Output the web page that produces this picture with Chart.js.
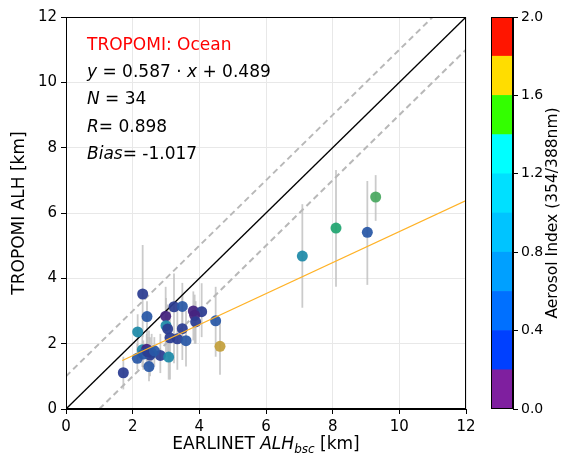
<!DOCTYPE html>
<html>
<head>
<meta charset="utf-8">
<script src="https://cdn.jsdelivr.net/npm/chart.js@4.4.0/dist/chart.umd.min.js"></script>
<style>
  body { margin: 0; background: #fff; }
  #wrap { position: relative; width: 561px; height: 454px; }
  #main { position: absolute; left: 0; top: 0; }
  #cbar { position: absolute; left: 480px; top: 0; }
</style>
</head>
<body>
<div id="wrap">
  <canvas id="main" width="480" height="454"></canvas>
  <canvas id="cbar" width="81" height="454"></canvas>
</div>
<script>
// EARLINET ALH_bsc (x) vs TROPOMI ALH (y), km
const earlinet = [2.30, 2.43, 2.15, 2.99, 3.24, 3.49, 3.82, 4.07, 3.86, 3.89, 4.49, 4.62, 3.00, 3.05, 3.49, 3.12, 3.34,
  3.60, 2.83, 3.08, 2.49, 1.72, 2.14, 2.29, 2.42, 2.57, 2.52, 2.32, 2.45, 2.65, 7.09, 8.10, 9.04, 9.29];
const tropomi = [3.52, 2.83, 2.36, 2.84, 3.13, 3.14, 3.00, 2.98, 2.87, 2.67, 2.70, 1.92, 2.55, 2.45, 2.46, 2.18, 2.15,
  2.09, 1.64, 1.59, 1.30, 1.11, 1.55, 1.81, 1.83, 1.72, 1.65, 1.68, 1.75, 1.78, 4.68, 5.54, 5.41, 6.49];
const errLow = [2.2, 1.8, 1.5, 2.0, 1.4, 2.2, 2.1, 2.2, 2.0, 2.0, 1.6, 1.05, 1.7, 1.6, 1.5, 0.9, 1.2,
  1.3, 1.1, 0.9, 0.85, 0.6, 1.2, 1.3, 1.4, 1.2, 1.0, 1.2, 1.3, 1.3, 3.10, 3.74, 3.80, 5.76];
const errHigh = [5.02, 3.3, 2.9, 3.74, 4.15, 3.86, 3.6, 3.85, 3.5, 3.3, 3.74, 2.7, 3.4, 3.2, 3.5, 3.2, 3.1,
  3.0, 2.3, 2.3, 2.4, 1.6, 2.0, 2.4, 2.3, 2.3, 2.2, 2.1, 2.2, 2.2, 6.27, 7.32, 6.98, 7.16];
const aerosolIndex = [0.3, 0.5, 0.9, 0.1, 0.3, 0.5, 0.1, 0.3, 0.1, 0.3, 0.5, 1.7, 0.9, 0.3, 0.3, 0.3, 0.3,
  0.5, 0.3, 0.9, 0.6, 0.3, 0.5, 0.9, 0.1, 0.9, 0.3, 0.5, 0.3, 0.5, 0.9, 1.3, 0.5, 1.5];

// fitted line as drawn in the figure
const fitSlope = 0.475;
const fitIntercept = 0.68;
const fitRange = [1.69, 12];

const axisTicks = [0, 2, 4, 6, 8, 10, 12];
const cbarTicks = [0.0, 0.4, 0.8, 1.2, 1.6, 2.0];
const cbarColors = ['#7f1f9f', '#0040ff', '#0070ff', '#00a0ff', '#00c4ff', '#00e0ff', '#00ffff', '#33ff00', '#ffdd00', '#ff1500'];
const pointColors = ['#46237f', '#2c3d92', '#2958a6', '#2670ad', '#1e8aa8', '#1f9a9e', '#21a571', '#4aa860', '#c3a03c', '#d04a2a'];

const labelLines = [
  { color: 'red', parts: [['TROPOMI: Ocean', false]] },
  { color: '#000', parts: [['y', true], [' = 0.587 \u00b7 ', false], ['x', true], [' + 0.489', false]] },
  { color: '#000', parts: [['N', true], [' = 34', false]] },
  { color: '#000', parts: [['R', true], ['= 0.898', false]] },
  { color: '#000', parts: [['Bias', true], ['= -1.017', false]] }
];

const FONT = '"DejaVu Sans", sans-serif';
Chart.defaults.font.family = FONT;
Chart.defaults.color = '#000';

function aiColor(v) {
  const i = Math.min(9, Math.floor(v / 0.2));
  return pointColors[i];
}

const points = earlinet.map((x, i) => ({ x: x, y: tropomi[i] }));

const extras = {
  id: 'extras',
  beforeDatasetsDraw(chart) {
    const ctx = chart.ctx, xs = chart.scales.x, ys = chart.scales.y;
    ctx.save();
    ctx.strokeStyle = 'rgba(190,190,190,0.8)';
    ctx.lineWidth = 1.8;
    earlinet.forEach((x, i) => {
      const px = xs.getPixelForValue(x);
      ctx.beginPath();
      ctx.moveTo(px, ys.getPixelForValue(errLow[i]));
      ctx.lineTo(px, ys.getPixelForValue(errHigh[i]));
      ctx.stroke();
    });
    ctx.restore();
  },
  afterDraw(chart) {
    const ctx = chart.ctx, a = chart.chartArea;
    ctx.save();
    ctx.strokeStyle = '#000';
    ctx.lineWidth = 1;
    ctx.strokeRect(a.left + 0.5, a.top + 0.5, a.right - a.left - 1, a.bottom - a.top - 1);

    // text block
    ctx.textBaseline = 'alphabetic';
    labelLines.forEach((ln, k) => {
      let x = 87;
      const y = 50 + k * 27.2;
      ln.parts.forEach(p => {
        ctx.font = (p[1] ? 'italic ' : '') + '17px ' + FONT;
        ctx.fillStyle = ln.color;
        ctx.fillText(p[0], x, y);
        x += ctx.measureText(p[0]).width;
      });
    });

    // x axis title
    const cx = (a.left + a.right) / 2;
    const segs = [['EARLINET ', '17px ', 0], ['ALH', 'italic 17px ', 0], ['bsc', 'italic 12px ', 4], [' [km]', '17px ', 0]];
    let w = 0;
    segs.forEach(s => { ctx.font = s[1] + FONT; w += ctx.measureText(s[0]).width; });
    let x = cx - w / 2;
    ctx.fillStyle = '#000';
    segs.forEach(s => {
      ctx.font = s[1] + FONT;
      ctx.fillText(s[0], x, 449 + s[2]);
      x += ctx.measureText(s[0]).width;
    });

    // y axis title
    ctx.translate(20, (a.top + a.bottom) / 2);
    ctx.rotate(-Math.PI / 2);
    ctx.font = '17px ' + FONT;
    ctx.textAlign = 'center';
    ctx.textBaseline = 'middle';
    ctx.fillText('TROPOMI ALH [km]', 0, 0);
    ctx.restore();
  }
};

function axis(fitFn) {
  return {
    type: 'linear', min: 0, max: 12,
    afterBuildTicks: s => { s.ticks = axisTicks.map(v => ({ value: v })); },
    ticks: { font: { size: 15 }, padding: 4, color: '#000' },
    grid: { color: '#e8e8e8', lineWidth: 1, tickColor: '#000', tickLength: 5 },
    border: { color: '#000', width: 1 },
    afterFit: fitFn
  };
}

new Chart(document.getElementById('main'), {
  type: 'scatter',
  data: {
    datasets: [
      {
        data: points,
        backgroundColor: aerosolIndex.map(v => aiColor(v) + 'ee'),
        borderWidth: 0,
        pointRadius: 5.5,
        order: 2
      },
      {
        type: 'line',
        data: [{ x: fitRange[0], y: fitSlope * fitRange[0] + fitIntercept }, { x: fitRange[1], y: fitSlope * fitRange[1] + fitIntercept }],
        borderColor: '#ffb226', borderWidth: 1.2, pointRadius: 0, order: 1
      },
      {
        type: 'line',
        data: [{ x: 0, y: 0 }, { x: 12, y: 12 }],
        borderColor: '#000', borderWidth: 1.3, pointRadius: 0, order: 3
      },
      {
        type: 'line',
        data: [{ x: 0, y: 1 }, { x: 11, y: 12 }],
        borderColor: '#b8b8b8', borderWidth: 2, borderDash: [6, 4], pointRadius: 0, order: 3
      },
      {
        type: 'line',
        data: [{ x: 1, y: 0 }, { x: 12, y: 11 }],
        borderColor: '#b8b8b8', borderWidth: 2, borderDash: [6, 4], pointRadius: 0, order: 3
      }
    ]
  },
  options: {
    responsive: false,
    animation: false,
    devicePixelRatio: 1,
    layout: { padding: { left: 0, right: 14, top: 17, bottom: 0 } },
    plugins: { legend: { display: false }, tooltip: { enabled: false } },
    scales: {
      x: axis(s => { s.height = 45; }),
      y: axis(s => { s.width = 66; })
    }
  },
  plugins: [extras]
});

// colour bar
const cbarExtras = {
  id: 'cbarExtras',
  afterDraw(chart) {
    const ctx = chart.ctx, a = chart.chartArea;
    ctx.save();
    ctx.strokeStyle = '#000';
    ctx.lineWidth = 1;
    ctx.strokeRect(a.left + 0.5, a.top + 0.5, a.right - a.left - 1, a.bottom - a.top - 1);
    ctx.translate(73, (a.top + a.bottom) / 2);
    ctx.rotate(-Math.PI / 2);
    ctx.font = '15.5px ' + FONT;
    ctx.fillStyle = '#000';
    ctx.textAlign = 'center';
    ctx.textBaseline = 'middle';
    ctx.fillText('Aerosol Index (354/388nm)', 0, 0);
    ctx.restore();
  }
};

new Chart(document.getElementById('cbar'), {
  type: 'bar',
  data: {
    labels: [''],
    datasets: cbarColors.map(c => ({
      data: [0.2], backgroundColor: c, borderWidth: 0,
      barPercentage: 1, categoryPercentage: 1
    }))
  },
  options: {
    responsive: false,
    animation: false,
    devicePixelRatio: 1,
    layout: { padding: { left: 11, right: 0, top: 17, bottom: 45 } },
    plugins: { legend: { display: false }, tooltip: { enabled: false } },
    scales: {
      x: { display: false, stacked: true },
      y: {
        stacked: true, position: 'right', min: 0, max: 2,
        afterBuildTicks: s => { s.ticks = cbarTicks.map(v => ({ value: v })); },
        ticks: { font: { size: 14 }, padding: 3, color: '#000', callback: v => Number(v).toFixed(1) },
        grid: { drawOnChartArea: false, tickColor: '#000', tickLength: 5 },
        border: { color: '#000', width: 1 },
        afterFit: s => { s.width = 48; }
      }
    }
  },
  plugins: [cbarExtras]
});
</script>
</body>
</html>
